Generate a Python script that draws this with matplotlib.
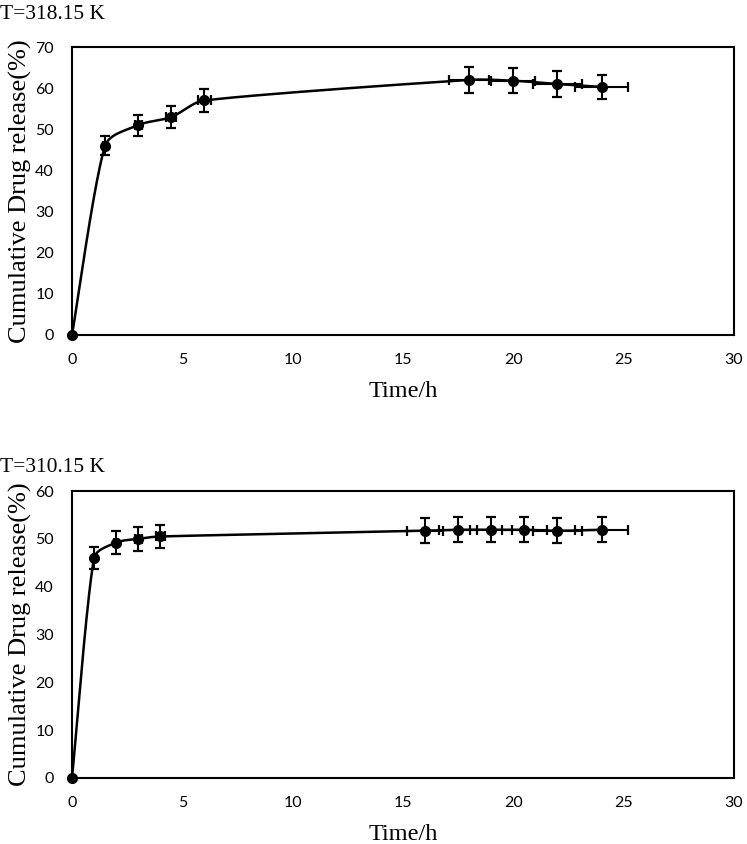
import matplotlib
matplotlib.use('Agg')
import matplotlib.pyplot as plt
import numpy as np

# T = 318.15 K
t_318 = [0, 1.5, 3, 4.5, 6, 18, 20, 22, 24]
rel_318 = [0, 46.0, 51.0, 53.0, 57.0, 62.0, 61.8, 61.0, 60.3]
yerr_318 = [0, 2.3, 2.55, 2.65, 2.85, 3.1, 3.1, 3.05, 3.0]
xerr_318 = [0, 0.075, 0.15, 0.225, 0.3, 0.9, 1.0, 1.1, 1.2]

# T = 310.15 K
t_310 = [0, 1, 2, 3, 4, 16, 17.5, 19, 20.5, 22, 24]
rel_310 = [0, 46.0, 49.2, 50.0, 50.5, 51.7, 51.9, 51.9, 51.9, 51.7, 51.9]
yerr_310 = [0, 2.3, 2.45, 2.5, 2.5, 2.6, 2.6, 2.6, 2.6, 2.6, 2.6]
xerr_310 = [0, 0.05, 0.1, 0.15, 0.2, 0.8, 0.875, 0.95, 1.025, 1.1, 1.2]

panels = [
    ('T=318.15 K', t_318, rel_318, xerr_318, yerr_318, 70),
    ('T=310.15 K', t_310, rel_310, xerr_310, yerr_310, 60),
]

tick_font = 'Lato'
serif = ['Liberation Serif', 'DejaVu Serif']


def smooth(x, y, kx, ky, n=40):
    # Excel-like smoothed line (Catmull-Rom Bezier), with the handle shortened
    # on the side of a much shorter segment so it does not overshoot
    p = np.column_stack([np.asarray(x) * kx, np.asarray(y) * ky]).astype(float)
    m = len(p)
    fwd = np.zeros_like(p)
    bwd = np.zeros_like(p)
    for i in range(m):
        a = p[max(i - 1, 0)]
        b = p[min(i + 1, m - 1)]
        tan = (b - a) / 6.0
        dp = np.hypot(*(p[i] - a))
        dn = np.hypot(*(b - p[i]))
        if i == 0 or i == m - 1:
            fwd[i] = bwd[i] = tan
            continue
        fwd[i] = tan * min(1.0, 2 * dn / (dp + dn))
        bwd[i] = tan * min(1.0, 2 * dp / (dp + dn))
    out = [p[0]]
    s = np.linspace(0, 1, n)[1:, None]
    for i in range(m - 1):
        p1, p2 = p[i], p[i + 1]
        c1 = p1 + fwd[i]
        c2 = p2 - bwd[i + 1]
        seg = ((1 - s) ** 3) * p1 + 3 * ((1 - s) ** 2) * s * c1 \
            + 3 * (1 - s) * s ** 2 * c2 + s ** 3 * p2
        out.extend(seg)
    out = np.array(out)
    return out[:, 0] / kx, out[:, 1] / ky


W, H = 747, 844
fig = plt.figure(figsize=(W / 100, H / 100), dpi=100)
rects = [[0.0964, 0.6031, 0.8862, 0.3412],
         [0.0964, 0.0782, 0.8862, 0.3400]]
title_y = [0.983, 0.446]

for (title, t, r, xe, ye, ymax), rect, ty in zip(panels, rects, title_y):
    ax = fig.add_axes(rect)
    kx = rect[2] * W / 30.0
    ky = rect[3] * H / ymax
    sx, sy = smooth(t, r, kx, ky)
    ax.plot(sx, sy, color='black', lw=1.8, zorder=2)
    ax.errorbar(t[1:], r[1:], xerr=xe[1:], yerr=ye[1:], fmt='o', color='black',
                ms=7, elinewidth=1.5, capsize=3.5, capthick=1.6, zorder=3)
    ax.plot(t[0], r[0], 'o', color='black', ms=7, clip_on=False, zorder=4)

    ax.set_xlim(0, 30)
    ax.set_ylim(0, ymax)
    ax.set_xticks(np.arange(0, 31, 5))
    ax.set_yticks(np.arange(0, ymax + 1, 10))
    ax.tick_params(length=0, labelsize=11.5, pad=13)
    for lab in ax.get_xticklabels() + ax.get_yticklabels():
        lab.set_family(tick_font)
    for sp in ax.spines.values():
        sp.set_linewidth(1.5)
        sp.set_color('black')

    ax.set_xlabel('Time/h', family=serif, fontsize=17.5, labelpad=10)
    ax.set_ylabel('Cumulative Drug release(%)', family=serif, fontsize=19,
                  labelpad=2)
    fig.text(0.0, ty, title, family=serif, fontsize=15.5, ha='left',
             va='center')

plt.savefig('out.png', dpi=100)
